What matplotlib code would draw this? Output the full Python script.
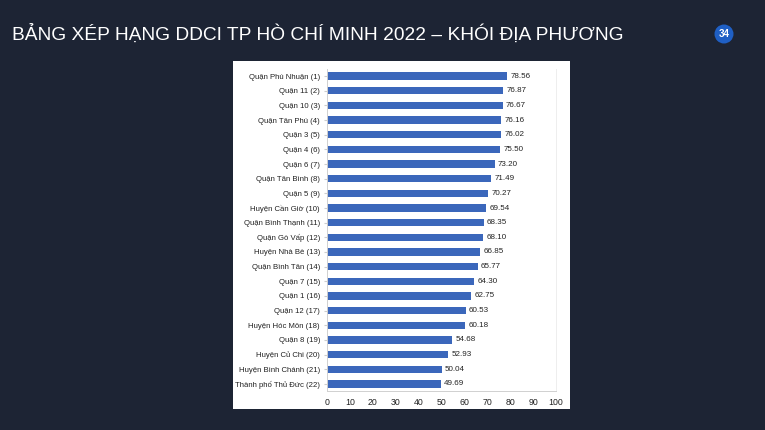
import matplotlib.pyplot as plt
from matplotlib.patches import Ellipse

districts = ["Quận Phú Nhuận (1)", "Quận 11 (2)", "Quận 10 (3)", "Quận Tân Phú (4)",
             "Quận 3 (5)", "Quận 4 (6)", "Quận 6 (7)", "Quận Tân Bình (8)", "Quận 5 (9)",
             "Huyện Cần Giờ (10)", "Quận Bình Thạnh (11)", "Quận Gò Vấp (12)",
             "Huyện Nhà Bè (13)", "Quận Bình Tân (14)", "Quận 7 (15)", "Quận 1 (16)",
             "Quận 12 (17)", "Huyện Hóc Môn (18)", "Quận 8 (19)", "Huyện Củ Chi (20)",
             "Huyện Bình Chánh (21)", "Thành phố Thủ Đức (22)"]
scores = [78.56, 76.87, 76.67, 76.16, 76.02, 75.50, 73.20, 71.49, 70.27, 69.54, 68.35,
          68.10, 66.85, 65.77, 64.30, 62.75, 60.53, 60.18, 54.68, 52.93, 50.04, 49.69]
x_ticks = [0, 10, 20, 30, 40, 50, 60, 70, 80, 90, 100]

plt.rcParams['font.family'] = ['Liberation Sans', 'DejaVu Sans']

bg = '#1d2434'
W, H = 765, 430
fig = plt.figure(figsize=(W / 100, H / 100), dpi=100, facecolor=bg)

# white panel behind the chart
panel = fig.add_axes([233 / W, 1 - 409 / H, 337 / W, 348 / H])
panel.set_facecolor('white')
panel.set_xticks([])
panel.set_yticks([])
for s in panel.spines.values():
    s.set_visible(False)

fig.text(12 / W, 1 - 34 / H, "BẢNG XÉP HẠNG DDCI TP HÒ CHÍ MINH 2022 – KHÓI ĐỊA PHƯƠNG",
         color='white', fontsize=13.8, va='center', ha='left')
fig.patches.append(Ellipse((724 / W, 1 - 34 / H), 19 / W, 19 / H, transform=fig.transFigure,
                           facecolor='#1f5fc4', edgecolor='none'))
fig.text(724 / W, 1 - 34 / H, "34", color='white', fontsize=7, fontweight='bold',
         ha='center', va='center')

ax = fig.add_axes([327 / W, 1 - 391.3 / H, 229 / W, 322.6 / H])
ax.patch.set_alpha(0)
pos = list(range(len(scores)))
ax.barh(pos, scores, height=0.5, color='#3b67bb', zorder=2)
for p, v in zip(pos, scores):
    ax.text(v + 1.5, p, f"{v:.2f}", va='center', ha='left', fontsize=5.8, color='#222222')

ax.set_yticks(pos)
ax.set_yticklabels(districts, fontsize=5.6, color='#222222')
ax.set_ylim(len(scores) - 0.5, -0.5)
ax.set_xlim(0, 100)
ax.set_xticks(x_ticks)
ax.set_xticklabels([str(t) for t in x_ticks], fontsize=6.3, color='#222222')
ax.tick_params(axis='y', length=2, color='#cccccc', pad=3)
ax.tick_params(axis='x', length=0, pad=5)
ax.spines['top'].set_visible(False)
for s in ['left', 'bottom', 'right']:
    ax.spines[s].set_color('#d0d0d0')
    ax.spines[s].set_linewidth(0.7)
ax.spines['right'].set_color('#eeeeee')

plt.savefig("out.png", dpi=100, facecolor=bg)
